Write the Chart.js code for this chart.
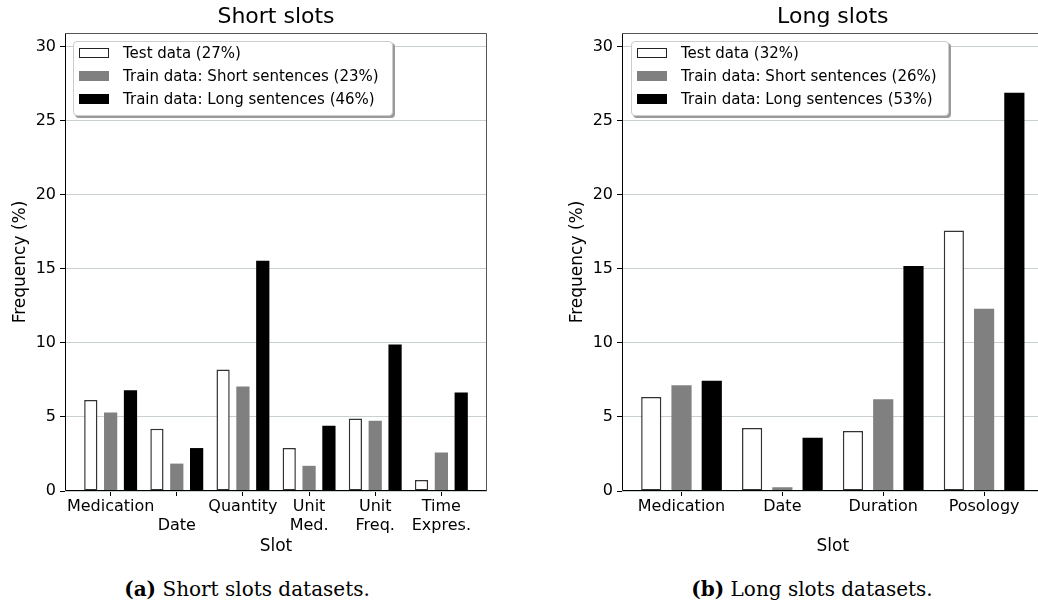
<!DOCTYPE html>
<html>
<head>
<meta charset="utf-8">
<script src="https://cdn.jsdelivr.net/npm/chart.js@4.4.1/dist/chart.umd.min.js"></script>
<style>
html, body { margin: 0; padding: 0; background: #fff; width: 1038px; height: 601px; overflow: hidden; }
body { position: relative; font-family: "DejaVu Sans", sans-serif; }
canvas { position: absolute; top: 0; }
#shortChart { left: 0; }
#longChart { left: 557px; }
.legend { position: absolute; top: 41px; height: 75px; box-sizing: border-box; border: 1px solid #ccc; border-radius: 4px; background: #fff; box-shadow: 2px 2px 0 #9a9a9a; font-size: 15px; color: #000; }
.legend .row { position: absolute; left: 0; height: 23px; line-height: 23px; white-space: nowrap; }
.legend .swatch { position: absolute; left: 5px; top: 6px; width: 30px; height: 10px; box-sizing: border-box; }
.legend .label { position: absolute; left: 49px; top: 0; }
.caption { position: absolute; top: 577px; font-family: "DejaVu Serif", serif; font-size: 20px; line-height: 24px; transform: translateX(-50%); white-space: nowrap; }
</style>
</head>
<body>
<canvas id="shortChart" width="500" height="560"></canvas>
<canvas id="longChart" width="500" height="560"></canvas>
<div class="legend" id="shortLegend" style="left:73px;width:320px"></div>
<div class="legend" id="longLegend" style="left:631px;width:318px"></div>
<div class="caption" style="left:247px"><b>(a)</b> Short slots datasets.</div>
<div class="caption" style="left:812px"><b>(b)</b> Long slots datasets.</div>
<script>
// short slots
const shortSlots = ['Medication', ['', 'Date'], 'Quantity', ['Unit', 'Med.'], ['Unit', 'Freq.'], ['Time', 'Expres.']];
const shortTest = [6.15, 4.2, 8.2, 2.9, 4.9, 0.75];
const shortTrainShort = [5.3, 1.85, 7.05, 1.7, 4.75, 2.6];
const shortTrainLong = [6.8, 2.9, 15.55, 4.4, 9.9, 6.65];
const shortNames = ['Test data (27%)', 'Train data: Short sentences (23%)', 'Train data: Long sentences (46%)'];

// long slots
const longSlots = ['Medication', 'Date', 'Duration', 'Posology'];
const longTest = [6.35, 4.25, 4.05, 17.6];
const longTrainShort = [7.15, 0.25, 6.2, 12.3];
const longTrainLong = [7.45, 3.6, 15.2, 26.9];
const longNames = ['Test data (32%)', 'Train data: Short sentences (26%)', 'Train data: Long sentences (53%)'];

const yTicks = [0, 5, 10, 15, 20, 25, 30];

const fills = ['#ffffff', '#808080', '#000000'];
const edges = ['#333333', '#808080', '#000000'];

Chart.defaults.font.family = '"DejaVu Sans", sans-serif';
Chart.defaults.color = '#000';

const frame = {
    id: 'frame',
    afterDraw(chart) {
        const ctx = chart.ctx;
        const a = chart.chartArea;
        const l = Math.round(a.left) + 0.5, r = Math.round(a.right) - 0.5;
        const t = Math.round(a.top) + 0.5, b = Math.round(a.bottom) - 0.5;
        ctx.save();
        ctx.lineWidth = 1;
        ctx.strokeStyle = '#555';
        ctx.beginPath();
        ctx.moveTo(l, t); ctx.lineTo(r, t); ctx.lineTo(r, b);
        ctx.stroke();
        ctx.strokeStyle = '#000';
        ctx.beginPath();
        ctx.moveTo(l, t); ctx.lineTo(l, b); ctx.lineTo(r, b);
        ctx.stroke();
        ctx.restore();
    }
};

const drawChart = (id, title, labels, series, names, xMin, xMax, padRight) => {
    return new Chart(document.getElementById(id), {
        type: 'bar',
        data: {
            datasets: series.map((vals, k) => ({
                label: names[k],
                data: vals.map((v, i) => ({x: i, y: v})),
                backgroundColor: fills[k],
                borderColor: edges[k],
                borderWidth: k === 0 ? 1.5 : 0,
                borderSkipped: false
            }))
        },
        options: {
            responsive: false,
            animation: false,
            grouped: true,
            categoryPercentage: 0.9,
            barPercentage: 0.667,
            layout: { padding: { left: 0, right: padRight, top: 0, bottom: 0 } },
            plugins: {
                legend: { display: false },
                tooltip: { enabled: false },
                title: {
                    display: true,
                    text: title,
                    fullSize: false,
                    font: { size: 22, weight: 'normal' },
                    padding: { top: 3.6, bottom: 3 }
                }
            },
            scales: {
                x: {
                    type: 'linear',
                    min: xMin,
                    max: xMax,
                    offset: false,
                    afterBuildTicks: (s) => { s.ticks = labels.map((_, i) => ({value: i})); },
                    afterFit: (s) => { s.height = 69; },
                    ticks: {
                        autoSkip: false,
                        maxRotation: 0,
                        padding: 1.5,
                        font: { size: 16 },
                        callback: (v, i) => labels[i]
                    },
                    grid: { offset: false, drawOnChartArea: false, color: '#000', tickLength: 5 },
                    border: { display: false },
                    title: { display: true, text: 'Slot', font: { size: 17 }, padding: { top: 0, bottom: 3 } }
                },
                y: {
                    min: 0,
                    max: 30.93,
                    afterBuildTicks: (s) => { s.ticks = yTicks.map((v) => ({value: v})); },
                    afterFit: (s) => { s.width = 65; },
                    ticks: { padding: 4, font: { size: 16 } },
                    grid: { color: '#c8d0d0', tickColor: '#000', tickLength: 5 },
                    border: { display: false },
                    title: { display: true, text: 'Frequency (%)', font: { size: 17 }, padding: { top: 10, bottom: 0 } }
                }
            }
        },
        plugins: [frame]
    });
};

const drawLegend = (id, names) => {
    const box = document.getElementById(id);
    box.innerHTML = names.map((n, k) =>
        '<div class="row" style="top:' + (k * 23) + 'px">' +
        '<span class="swatch" style="background:' + fills[k] + ';' + (k === 0 ? 'border:1px solid #222' : '') + '"></span>' +
        '<span class="label">' + n + '</span></div>').join('');
};

drawChart('shortChart', 'Short slots', shortSlots, [shortTest, shortTrainShort, shortTrainLong], shortNames, -0.69, 5.69, 13);
drawChart('longChart', 'Long slots', longSlots, [longTest, longTrainShort, longTrainLong], longNames, -0.59, 3.59, 13.4);
drawLegend('shortLegend', shortNames);
drawLegend('longLegend', longNames);
</script>
</body>
</html>
